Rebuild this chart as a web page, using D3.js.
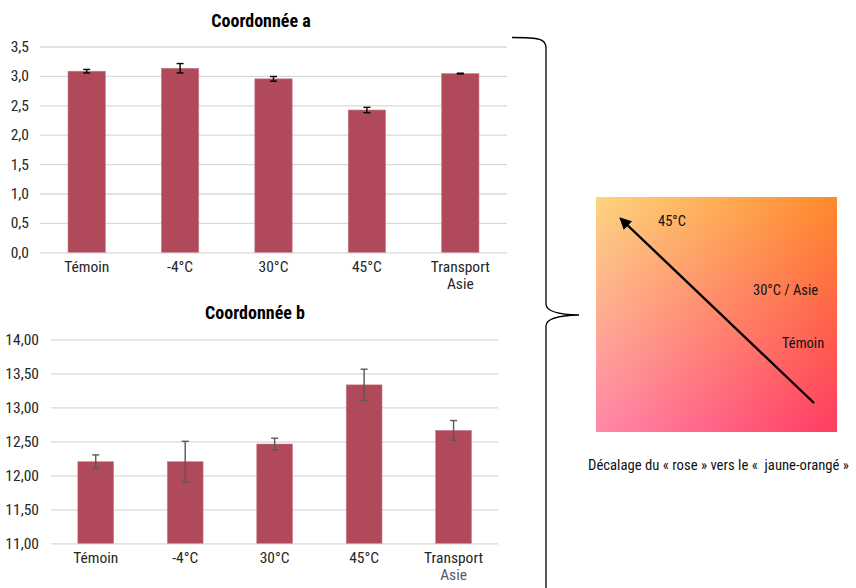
<!DOCTYPE html>
<html><head><meta charset="utf-8">
<script src="https://cdn.jsdelivr.net/npm/d3@7"></script>
<style>
body{margin:0;background:#fff;}
svg{display:block;font-family:"Liberation Sans Narrow","Roboto Condensed","Arial Narrow","Liberation Sans",sans-serif;}
</style></head>
<body><svg id="c" width="856" height="588"></svg>
<script>
const categories = ["Témoin", "-4°C", "30°C", "45°C", "Transport Asie"];
const valuesA = [3.08, 3.13, 2.95, 2.42, 3.04];
const errorsA = [0.03, 0.08, 0.04, 0.045, 0.006];
const valuesB = [12.20, 12.20, 12.46, 13.33, 12.66];
const errorsB = [0.10, 0.30, 0.085, 0.23, 0.145];
const ticksA = [0, 0.5, 1.0, 1.5, 2.0, 2.5, 3.0, 3.5];
const ticksB = [11, 11.5, 12, 12.5, 13, 13.5, 14];
const titleA = "Coordonnée a";
const titleB = "Coordonnée b";
const shiftLabels = ["45°C", "30°C / Asie", "Témoin"];
const caption = "Décalage du « rose » vers le «  jaune-orangé »";

const svg = d3.select("#c");
const loc = d3.formatLocale({decimal: ",", thousands: " ", grouping: [3], currency: ["", "€"]});
const barColor = "#b04a5a";
const textColor = "#262626";

function drawChart(cfg) {
  const x = d3.scaleBand().domain(categories).range([cfg.left, cfg.right]).paddingInner(0.6).paddingOuter(0.3);
  const y = d3.scaleLinear().domain(cfg.domain).range([cfg.bottom, cfg.top]);
  const g = svg.append("g");

  // gridlines
  const grid = g.append("g").attr("transform", `translate(${cfg.left},0)`)
    .call(d3.axisLeft(y).tickValues(cfg.ticks).tickSize(-(cfg.right - cfg.left)).tickFormat(""));
  grid.select(".domain").remove();
  grid.selectAll("line").attr("stroke", "#d9d9d9").attr("stroke-width", 1.3);

  // y labels
  const ya = g.append("g").attr("transform", `translate(${cfg.left},0)`)
    .call(d3.axisLeft(y).tickValues(cfg.ticks).tickSize(0).tickPadding(cfg.yPad).tickFormat(loc.format(cfg.fmt)));
  ya.attr("font-family", null).attr("font-size", null);
  ya.select(".domain").remove();
  ya.selectAll("text").attr("font-size", 15.5).attr("fill", textColor);

  // bars
  g.selectAll("rect.bar").data(categories).join("rect").attr("class", "bar")
    .attr("x", d => x(d)).attr("width", x.bandwidth())
    .attr("y", (d, i) => y(cfg.values[i]))
    .attr("height", (d, i) => y(cfg.domain[0]) - y(cfg.values[i]))
    .attr("fill", barColor).attr("stroke", "#c7808b").attr("stroke-width", 0.6);

  // error bars
  const eg = g.append("g").attr("stroke", cfg.errColor).attr("stroke-width", cfg.errWidth);
  categories.forEach((d, i) => {
    const cx = x(d) + x.bandwidth() / 2;
    const y1 = y(cfg.values[i] + cfg.errors[i]), y2 = y(cfg.values[i] - cfg.errors[i]);
    eg.append("line").attr("x1", cx).attr("x2", cx).attr("y1", y1).attr("y2", y2);
    eg.append("line").attr("x1", cx - cfg.cap).attr("x2", cx + cfg.cap).attr("y1", y1).attr("y2", y1);
    eg.append("line").attr("x1", cx - cfg.cap).attr("x2", cx + cfg.cap).attr("y1", y2).attr("y2", y2);
  });

  // x labels
  const xa = g.append("g").attr("transform", `translate(0,${cfg.bottom})`)
    .call(d3.axisBottom(x).tickSize(0).tickPadding(cfg.xPad));
  xa.attr("font-family", null).attr("font-size", null);
  xa.select(".domain").remove();
  xa.selectAll("text").attr("font-size", 15.5).attr("fill", textColor)
    .each(function(d) {
      const t = d3.select(this);
      const parts = d.split(" ");
      if (parts.length > 1) {
        t.text(null);
        t.append("tspan").attr("x", 0).text(parts[0]);
        t.append("tspan").attr("x", 0).attr("dy", "1.08em").attr("fill", cfg.secondColor).text(parts[1]);
      }
    });

  // title
  g.append("text").attr("x", cfg.titleX).attr("y", cfg.titleY).attr("text-anchor", "middle")
    .attr("font-size", 18).attr("font-weight", "bold").attr("fill", "#000").text(cfg.title);
}

drawChart({left: 40, right: 507, top: 46.5, bottom: 252.3, domain: [0, 3.5], ticks: ticksA, fmt: ".1f",
  values: valuesA, errors: errorsA, errColor: "#000", errWidth: 1.4, cap: 3.5, yPad: 11, xPad: 9,
  secondColor: textColor, title: titleA, titleX: 261, titleY: 27});
drawChart({left: 51, right: 498.3, top: 339.3, bottom: 543.3, domain: [11, 14], ticks: ticksB, fmt: ".2f",
  values: valuesB, errors: errorsB, errColor: "#595959", errWidth: 1.4, cap: 3.5, yPad: 12, xPad: 8.5,
  secondColor: "#595959", title: titleB, titleX: 255, titleY: 319});

// brace
svg.append("path")
  .attr("d", "M512,37.5 C540,37.5 546,39 546,48 L546,304 C546,311 556,314.5 579,315 C556,315.5 546,319 546,326 L546,600")
  .attr("fill", "none").attr("stroke", "#000").attr("stroke-width", 1.3);

// gradient square (bilinear)
const defs = svg.append("defs");
const gTop = defs.append("linearGradient").attr("id", "gTop").attr("x1", 0).attr("x2", 1).attr("y1", 0).attr("y2", 0);
gTop.append("stop").attr("offset", 0).attr("stop-color", "#fdd47f");
gTop.append("stop").attr("offset", 1).attr("stop-color", "#ff8a2a");
const gBot = defs.append("linearGradient").attr("id", "gBot").attr("x1", 0).attr("x2", 1).attr("y1", 0).attr("y2", 0);
gBot.append("stop").attr("offset", 0).attr("stop-color", "#ff88aa");
gBot.append("stop").attr("offset", 1).attr("stop-color", "#ff3c64");
const gMask = defs.append("linearGradient").attr("id", "gMask").attr("x1", 0).attr("x2", 0).attr("y1", 0).attr("y2", 1);
gMask.append("stop").attr("offset", 0).attr("stop-color", "#fff");
gMask.append("stop").attr("offset", 1).attr("stop-color", "#000");
const sq = {x: 596, y: 197, w: 241, h: 235};
defs.append("mask").attr("id", "mTop").attr("maskUnits", "userSpaceOnUse")
  .append("rect").attr("x", sq.x).attr("y", sq.y).attr("width", sq.w).attr("height", sq.h).attr("fill", "url(#gMask)");
svg.append("rect").attr("x", sq.x).attr("y", sq.y).attr("width", sq.w).attr("height", sq.h).attr("fill", "url(#gBot)");
svg.append("rect").attr("x", sq.x).attr("y", sq.y).attr("width", sq.w).attr("height", sq.h).attr("fill", "url(#gTop)").attr("mask", "url(#mTop)");

// arrow
defs.append("marker").attr("id", "ah").attr("viewBox", "0 0 10 10").attr("refX", 8).attr("refY", 5)
  .attr("markerWidth", 5).attr("markerHeight", 5).attr("orient", "auto")
  .append("path").attr("d", "M0,0 L10,5 L0,10 Z").attr("fill", "#000");
svg.append("line").attr("x1", 814).attr("y1", 403).attr("x2", 621).attr("y2", 219)
  .attr("stroke", "#000").attr("stroke-width", 2.4).attr("marker-end", "url(#ah)");

const lblPos = [[658, 226], [753, 295], [782, 348]];
shiftLabels.forEach((t, i) => {
  svg.append("text").attr("x", lblPos[i][0]).attr("y", lblPos[i][1]).attr("font-size", 14.5).attr("fill", "#111").text(t);
});
svg.append("text").attr("x", 588).attr("y", 470).attr("font-size", 14.7).attr("fill", "#111")
  .style("white-space", "pre").attr("xml:space", "preserve").text(caption);
</script></body></html>
